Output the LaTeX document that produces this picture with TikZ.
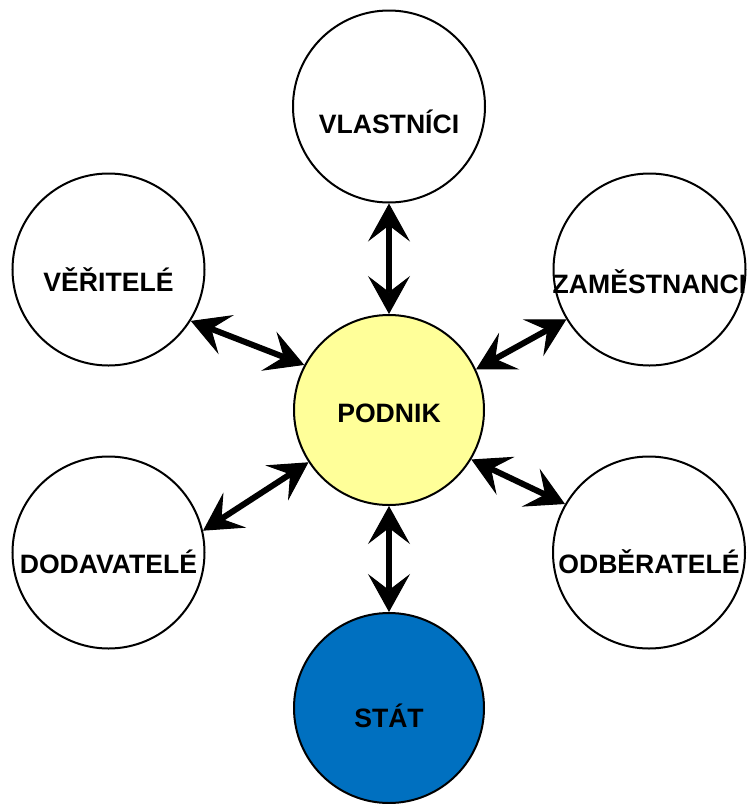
\documentclass[tikz,border=0pt]{standalone}
\usepackage{fontspec}
\setmainfont{Liberation Sans}
\usetikzlibrary{arrows.meta}

\definecolor{podnikyellow}{HTML}{FFFF99}
\definecolor{statblue}{HTML}{0070C0}

\begin{document}
\begin{tikzpicture}[
    x=0.5pt, y=-0.5pt,
    ring/.style={circle, draw, line width=1pt, fill=white, minimum size=96pt, inner sep=0pt},
    caption/.style={inner sep=0pt, font=\fontsize{13.3}{15}\selectfont\bfseries},
    link/.style={{Stealth[length=19pt, width=21pt, inset=8pt, line width=0.5pt]}-{Stealth[length=19pt, width=21pt, inset=8pt, line width=0.5pt]}, line width=3pt}
  ]
    \useasboundingbox (0,0) rectangle (746,804);

    % Centre
    \node[ring, fill=podnikyellow, minimum size=95pt, label={[caption, yshift=-1.5pt]center:PODNIK}] (podnik) at (389,410) {};

    % Surrounding groups
    \node[ring, label={[caption, yshift=-7.7pt]center:VLASTNÍCI}] (vlastnici) at (389,106.5) {};
    \node[ring, label={[caption, yshift=-5.2pt]center:VĚŘITELÉ}] (veritele) at (108.5,269.5) {};
    \node[ring, label={[caption, yshift=-6pt]center:ZAMĚSTNANCI}] (zamestnanci) at (649.5,269.5) {};
    \node[ring, label={[caption, yshift=-4.5pt]center:DODAVATELÉ}] (dodavatele) at (108.5,552.5) {};
    \node[ring, label={[caption, yshift=-4.5pt]center:ODBĚRATELÉ}] (odberatele) at (649,552.5) {};
    \node[ring, fill=statblue, minimum size=95pt, label={[caption, yshift=-4pt]center:STÁT}] (stat) at (389,708) {};

    % Arrows
    \draw[link] (vlastnici) -- (podnik);
    \draw[link] (veritele.-32) -- (podnik.152);
    \draw[link] (zamestnanci.-149.5) -- (podnik.25.6);
    \draw[link] (dodavatele.13.5) -- (podnik.213.3);
    \draw[link] (odberatele.150.5) -- (podnik.-31.2);
    \draw[link] (podnik) -- (stat);
\end{tikzpicture}
\end{document}
